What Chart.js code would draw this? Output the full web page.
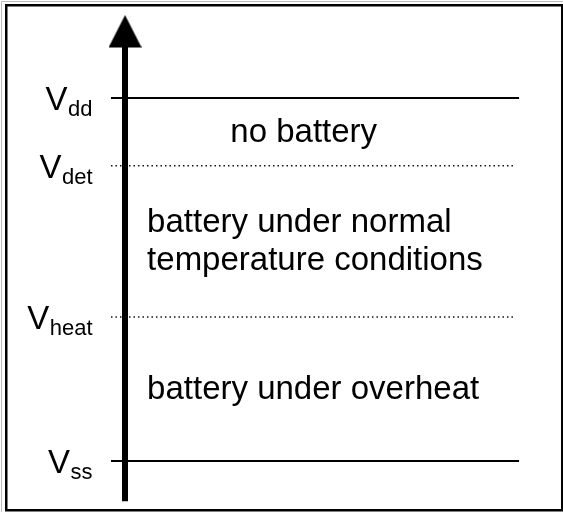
<!DOCTYPE html>
<html>
<head>
<meta charset="utf-8">
<script src="https://cdn.jsdelivr.net/npm/chart.js@4/dist/chart.umd.min.js"></script>
<style>
  html, body { margin: 0; padding: 0; background: #fff; }
  canvas { display: block; }
</style>
</head>
<body>
<canvas id="c" width="563" height="512"></canvas>
<script>
// ---- data ----
const levelNames = ['ss', 'heat', 'det', 'dd'];
const levelValues = [0, 1.0, 2.05, 2.52];
const levelSolid = [true, false, false, true];
const regionLabels = [
  ['battery under overheat'],
  ['battery under normal', 'temperature conditions'],
  ['no battery']
];
const axisRange = [-0.28, 3.097];   // voltage axis extent (bottom, arrow tip)

// ---- layout helpers ----
const X_MIN = -0.9615, X_MAX = 3.369;
const Y_MIN = -0.354, Y_MAX = 3.201;
const LINE_START = -0.108, SOLID_END = 3.031, DOT_END = 3.0;
const HEAD_H = 33;

const FONT = '"Liberation Sans", Arial, sans-serif';

// arrowhead image
const head = document.createElement('canvas');
head.width = 33; head.height = HEAD_H;
(function () {
  const g = head.getContext('2d');
  g.fillStyle = '#000';
  g.beginPath();
  g.moveTo(16.5, 0); g.lineTo(33, HEAD_H - 0.5); g.lineTo(0, HEAD_H - 0.5); g.closePath();
  g.fill();
})();

const datasets = [];
levelValues.forEach((v, i) => {
  const solid = levelSolid[i];
  datasets.push({
    data: [{ x: LINE_START, y: v }, { x: solid ? SOLID_END : DOT_END, y: v }],
    showLine: true,
    borderColor: solid ? '#000' : '#111',
    borderWidth: solid ? 2 : 1.5,
    borderDash: solid ? [] : [1.5, 3],
    borderCapStyle: 'butt',
    pointRadius: 0
  });
});
const PX_PER_UNIT = 512 / (Y_MAX - Y_MIN);
datasets.push({
  data: [{ x: 0, y: axisRange[0] }, { x: 0, y: axisRange[1] - 22 / PX_PER_UNIT }],
  showLine: true,
  borderColor: '#000',
  borderWidth: 6,
  borderCapStyle: 'butt',
  pointRadius: 0
});
datasets.push({
  data: [{ x: 0, y: axisRange[1] - (HEAD_H / 2) / PX_PER_UNIT }],
  showLine: false,
  pointStyle: head,
  pointRadius: 16
});

const textPlugin = {
  id: 'texts',
  beforeDraw(chart) {
    const c = chart.ctx;
    c.save();
    c.fillStyle = '#fff';
    c.fillRect(0, 0, chart.width, chart.height);
    // outer frame
    c.strokeStyle = '#bbb'; c.lineWidth = 1;
    c.beginPath(); c.moveTo(1.5, 512); c.lineTo(1.5, 1.5); c.lineTo(563, 1.5); c.stroke();
    c.strokeStyle = '#000'; c.lineWidth = 2.5;
    c.strokeRect(6.25, 5.25, 556, 505);
    c.restore();
  },
  afterDatasetsDraw(chart) {
    const c = chart.ctx;
    const xs = chart.scales.x, ys = chart.scales.y;
    c.save();
    c.fillStyle = '#000';
    c.textBaseline = 'alphabetic';
    const rightEdge = xs.getPixelForValue(-0.25);
    levelValues.forEach((v, i) => {
      const yp = ys.getPixelForValue(v);
      c.font = '22px ' + FONT;
      const sw = c.measureText(levelNames[i]).width;
      c.textAlign = 'left';
      c.fillText(levelNames[i], rightEdge - sw, yp + 18);
      c.font = '33px ' + FONT;
      c.textAlign = 'right';
      c.fillText('V', rightEdge - sw - 0.5, yp + 12);
    });
    // region labels centered between levels
    c.font = '33px ' + FONT;
    c.textAlign = 'left';
    c.textBaseline = 'middle';
    regionLabels.forEach((lines, i) => {
      const mid = (levelValues[i] + levelValues[i + 1]) / 2;
      const yp = ys.getPixelForValue(mid);
      const xLeft = i === 2 ? xs.getPixelForValue(0.81) : xs.getPixelForValue(0.17);
      const lh = 38;
      lines.forEach((t, k) => {
        c.fillText(t, xLeft, yp + (k - (lines.length - 1) / 2) * lh + 1);
      });
    });
    c.restore();
  }
};

new Chart(document.getElementById('c'), {
  type: 'scatter',
  data: { datasets },
  options: {
    responsive: false,
    animation: false,
    layout: { padding: 0, autoPadding: false },
    plugins: { legend: { display: false }, tooltip: { enabled: false } },
    scales: {
      x: { type: 'linear', display: false, min: X_MIN, max: X_MAX },
      y: { type: 'linear', display: false, min: Y_MIN, max: Y_MAX }
    }
  },
  plugins: [textPlugin]
});
</script>
</body>
</html>
